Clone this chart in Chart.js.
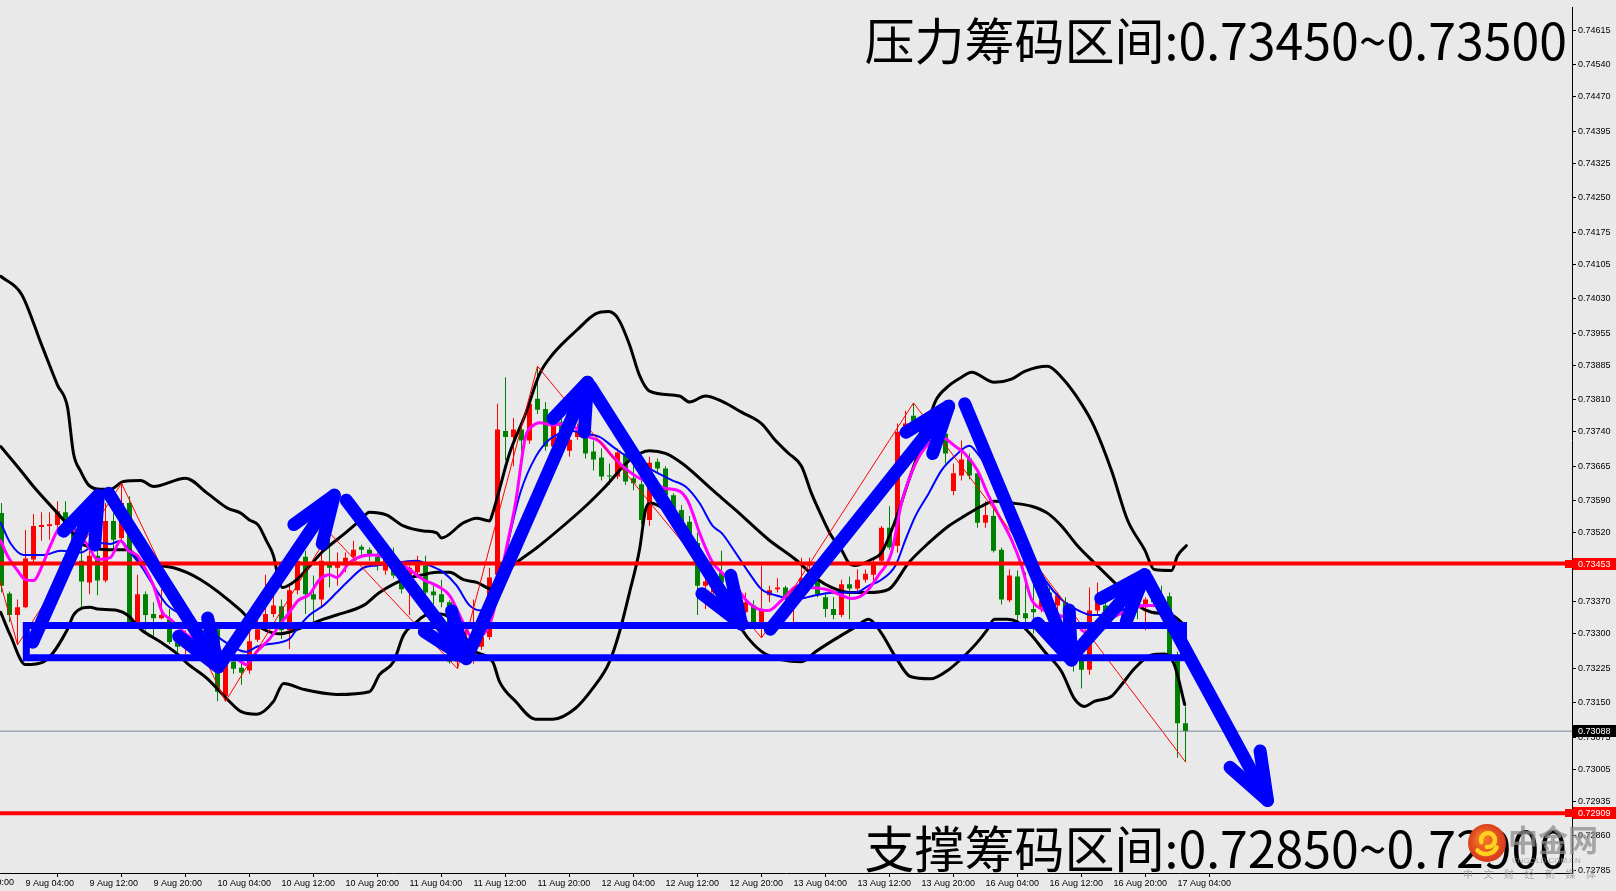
<!DOCTYPE html>
<html><head><meta charset="utf-8">
<script src="https://cdn.jsdelivr.net/npm/chart.js@4.4.0/dist/chart.umd.min.js"></script>
<style>html,body{margin:0;padding:0;background:#e9e9e9;overflow:hidden}canvas{display:block}</style>
</head><body><canvas id="c" width="1616" height="891"></canvas>
<script>
// ---------- DATA ----------
const candleOpen = [0.73563,0.73388,0.73341,0.73358,0.73462,0.73533,0.73535,0.73537,0.73565,0.73535,0.73459,0.73412,0.7347,0.73416,0.73546,0.73509,0.73585,0.73326,0.73386,0.73343,0.73334,0.73332,0.73287,0.73272,0.73293,0.73308,0.73272,0.7331,0.73164,0.73239,0.73226,0.7322,0.73287,0.7331,0.73343,0.7336,0.73308,0.73395,0.73468,0.73386,0.73375,0.73451,0.73444,0.73449,0.73468,0.7349,0.73483,0.73468,0.73438,0.73472,0.73416,0.73397,0.73434,0.73449,0.73392,0.73386,0.73369,0.73239,0.73272,0.73261,0.73272,0.73293,0.73429,0.73742,0.73729,0.73745,0.73721,0.73812,0.7379,0.73708,0.73762,0.73699,0.73729,0.73729,0.73697,0.73684,0.73645,0.73643,0.73693,0.73639,0.73626,0.73548,0.73675,0.7366,0.73602,0.7357,0.73544,0.73498,0.73405,0.7339,0.73434,0.73412,0.73369,0.73347,0.73362,0.73326,0.73384,0.73397,0.73401,0.73369,0.73412,0.73449,0.73416,0.7338,0.73354,0.73341,0.73408,0.73399,0.73418,0.73429,0.73459,0.73531,0.73492,0.7374,0.73775,0.73747,0.73725,0.7374,0.73736,0.73611,0.73645,0.73682,0.7365,0.73542,0.73557,0.73483,0.73373,0.73425,0.73345,0.73354,0.73358,0.7339,0.73362,0.73369,0.73297,0.73243,0.73222,0.73351,0.73362,0.73347,0.73362,0.73351,0.73369,0.73358,0.73375,0.7338,0.73382,0.73254,0.73105];
const candleHigh = [0.73585,0.73392,0.73375,0.73526,0.73561,0.73565,0.73565,0.73589,0.73589,0.73552,0.73488,0.73516,0.73488,0.73585,0.73563,0.73628,0.736,0.73429,0.73392,0.73369,0.73397,0.73354,0.73304,0.73308,0.73308,0.73326,0.73336,0.73326,0.73261,0.73261,0.7325,0.73308,0.73332,0.73429,0.73384,0.73375,0.73405,0.73477,0.73481,0.73427,0.73483,0.7352,0.73477,0.73477,0.73503,0.73494,0.73488,0.73477,0.73481,0.73488,0.73425,0.73449,0.7347,0.7347,0.73412,0.73418,0.73373,0.73293,0.73315,0.73375,0.73308,0.73444,0.73801,0.73859,0.7377,0.73764,0.73812,0.73883,0.73805,0.73762,0.73775,0.73736,0.73758,0.7374,0.73721,0.73704,0.73671,0.73704,0.73699,0.73665,0.73634,0.73686,0.73682,0.73665,0.73606,0.7358,0.73557,0.7352,0.73423,0.73423,0.73481,0.73423,0.7338,0.7339,0.73373,0.73449,0.73405,0.73421,0.73405,0.73375,0.73466,0.73466,0.73434,0.7339,0.7338,0.73418,0.73425,0.7344,0.7344,0.73462,0.73535,0.73578,0.73758,0.73786,0.73803,0.73768,0.73762,0.73758,0.73747,0.73671,0.73721,0.73693,0.7366,0.73589,0.73574,0.73488,0.7344,0.73438,0.73434,0.73412,0.7339,0.73401,0.7339,0.7338,0.73315,0.73261,0.73401,0.73412,0.73375,0.73373,0.73369,0.7338,0.73375,0.7338,0.73384,0.73405,0.7339,0.73261,0.73142];
const candleLow = [0.7339,0.73326,0.73276,0.73356,0.73455,0.73503,0.73505,0.73531,0.73524,0.73455,0.73354,0.73386,0.73384,0.73412,0.73483,0.73498,0.73321,0.73321,0.73308,0.73289,0.73332,0.73278,0.73261,0.73256,0.73265,0.73261,0.73261,0.73153,0.73153,0.73213,0.73189,0.73213,0.73282,0.73304,0.73336,0.73289,0.73267,0.73386,0.73343,0.73328,0.73358,0.73401,0.73405,0.73434,0.73464,0.73472,0.73459,0.73438,0.73429,0.73421,0.73388,0.73341,0.73423,0.73362,0.73364,0.73358,0.73235,0.73224,0.7325,0.73235,0.73265,0.73287,0.73423,0.73678,0.73665,0.73697,0.73714,0.73779,0.73699,0.73701,0.73732,0.73686,0.73723,0.73682,0.73656,0.73634,0.73624,0.73637,0.73624,0.73613,0.73539,0.73535,0.7365,0.73591,0.73559,0.73531,0.73477,0.73341,0.73354,0.73369,0.73401,0.73347,0.73336,0.73336,0.73321,0.73291,0.73369,0.7339,0.73373,0.73326,0.73401,0.73423,0.7338,0.73336,0.73332,0.73336,0.73332,0.7339,0.73412,0.73412,0.73455,0.73483,0.73477,0.73732,0.73736,0.73714,0.73714,0.73704,0.73671,0.73602,0.73634,0.73637,0.73531,0.73531,0.73477,0.73364,0.73369,0.73326,0.73326,0.733,0.73347,0.73358,0.73347,0.73293,0.73218,0.73181,0.73211,0.73343,0.7331,0.73336,0.73336,0.73343,0.73332,0.73308,0.73358,0.73347,0.7325,0.7303,0.73021];
const candleClose = [0.73405,0.73341,0.73358,0.73464,0.73535,0.73537,0.73539,0.73567,0.73535,0.73459,0.73414,0.7347,0.73416,0.73546,0.73505,0.73585,0.73326,0.73386,0.73341,0.73334,0.73341,0.73282,0.73272,0.73293,0.73282,0.73282,0.73308,0.73174,0.73239,0.73224,0.73215,0.73284,0.7331,0.73343,0.73362,0.73308,0.73395,0.73459,0.73386,0.73375,0.73459,0.73444,0.73455,0.73466,0.73483,0.73483,0.73472,0.73449,0.73472,0.73427,0.73397,0.73444,0.73455,0.7339,0.73384,0.73369,0.73239,0.73272,0.73282,0.73289,0.73293,0.73423,0.73745,0.73729,0.73745,0.73721,0.73801,0.73788,0.73708,0.73753,0.7374,0.73723,0.73742,0.73693,0.7368,0.73643,0.73643,0.73695,0.73632,0.73628,0.73548,0.73673,0.7366,0.73602,0.7357,0.73542,0.73498,0.73405,0.73414,0.73412,0.73412,0.73369,0.73347,0.73369,0.73326,0.73354,0.73395,0.73401,0.7338,0.73373,0.73421,0.73455,0.73386,0.73354,0.73341,0.73408,0.73399,0.73418,0.73431,0.73455,0.73531,0.73488,0.7374,0.73758,0.73747,0.73732,0.73747,0.73714,0.73693,0.7365,0.7368,0.73645,0.73542,0.73559,0.73481,0.73375,0.73427,0.73341,0.73334,0.73347,0.73373,0.73369,0.73384,0.73304,0.73276,0.73222,0.73351,0.73375,0.73341,0.73362,0.73351,0.73369,0.73358,0.73375,0.73369,0.73358,0.73254,0.73105,0.73088];

const bbUpper = [[-0.1,0.74079],[2.5,0.7404],[5,0.7393],[7,0.73842],[8.25,0.73794],[9,0.73693],[9.9,0.73654],[10.9,0.73624],[12.4,0.73615],[13.6,0.73615],[15.25,0.73632],[17.4,0.73634],[19,0.73621],[23,0.73639],[25.75,0.73606],[28.25,0.73574],[29.9,0.73563],[31,0.73548],[32.1,0.73537],[33.1,0.73503],[34,0.7347],[34.6,0.73423],[35.1,0.73401],[36.75,0.73416],[40.25,0.73481],[43,0.7352],[44.75,0.73546],[46,0.73565],[48.1,0.73559],[50.25,0.73535],[52.75,0.73524],[54.4,0.7352],[55,0.73509],[57.75,0.73542],[59.4,0.73552],[61,0.73546],[61.4,0.73563],[63.5,0.73693],[65.5,0.73779],[67.25,0.73866],[68.9,0.73909],[72,0.73963],[74.25,0.73997],[75.9,0.74002],[77.1,0.73986],[78.5,0.7393],[79.75,0.73863],[81,0.73829],[84.75,0.73818],[86,0.73805],[88,0.73818],[90,0.73807],[92.5,0.73783],[95,0.73758],[96.75,0.73721],[98.4,0.73693],[100,0.73665],[101.25,0.73606],[102.5,0.73557],[103.75,0.73513],[105,0.73483],[105.9,0.73455],[106.75,0.73449],[108.75,0.73462],[110,0.73477],[111.75,0.73548],[113.4,0.73634],[115,0.73714],[116.75,0.73807],[118.4,0.7384],[120,0.73859],[121.25,0.7387],[124.1,0.73848],[126.25,0.73855],[127.9,0.73872],[130.75,0.73883],[132.5,0.73859],[135,0.73801],[136.6,0.73751],[138.75,0.73656],[140.75,0.73548],[142.9,0.73483],[144.1,0.7344],[146.25,0.73438],[147,0.7347],[148.1,0.73492]];
const bbMiddle = [[-0.1,0.73708],[2.4,0.73656],[4,0.73621],[7.75,0.73548],[10.25,0.73494],[14.5,0.73483],[15.75,0.73483],[17.75,0.73455],[21.5,0.73444],[24.9,0.73418],[29.9,0.73351],[31,0.73332],[32.75,0.7331],[34.75,0.733],[36,0.73304],[40.25,0.73332],[41.9,0.73341],[45.25,0.73362],[47.25,0.7339],[50.25,0.73418],[52.75,0.73429],[54.4,0.73434],[56,0.73434],[57.75,0.73418],[59.4,0.73412],[61.4,0.73397],[63,0.73434],[67.25,0.73492],[73,0.73578],[75.5,0.73621],[78.5,0.73678],[81,0.73699],[83,0.73693],[85.1,0.73671],[88.9,0.73613],[91.75,0.7357],[95.9,0.73505],[99.25,0.73462],[102.1,0.73418],[103.75,0.73401],[105.9,0.7339],[108.4,0.7339],[110.9,0.73397],[113.4,0.73455],[115.9,0.73498],[118.4,0.73535],[120.4,0.73557],[122.5,0.73578],[124.1,0.73589],[126.25,0.73585],[128.75,0.73578],[130.75,0.73563],[132.5,0.73535],[134.5,0.73492],[136.6,0.73455],[138.75,0.73418],[140.4,0.7339],[142,0.73362],[143.75,0.73347],[146.25,0.73341],[147.9,0.73319]];
const bbLower = [[-0.1,0.73347],[1.1,0.73297],[3,0.73233],[5.25,0.73239],[8.25,0.7331],[9,0.73341],[11.1,0.73358],[12,0.73354],[14.5,0.73351],[15.75,0.73341],[17.4,0.7331],[19.9,0.73282],[22,0.73256],[23.25,0.73235],[25.75,0.73202],[28.25,0.73157],[29.9,0.73131],[31.9,0.73125],[34,0.73153],[35.25,0.73192],[37.75,0.73179],[41.9,0.73168],[46,0.73174],[47.25,0.73211],[49,0.73239],[50.25,0.73297],[51.9,0.73326],[53.1,0.73341],[54.9,0.73343],[56.4,0.7333],[57.75,0.733],[58.9,0.73265],[61.4,0.73239],[62.25,0.73196],[64.25,0.73153],[66.75,0.73114],[68.9,0.73114],[71.75,0.73138],[73.9,0.73181],[76,0.73239],[77.25,0.73304],[78.5,0.7339],[79.75,0.73483],[80.5,0.7357],[81.1,0.73585],[82.25,0.73578],[83.9,0.73557],[86.1,0.73509],[88,0.73455],[89.9,0.7339],[91.75,0.73332],[93.4,0.73289],[95.5,0.73256],[100,0.73239],[101.75,0.73261],[104.25,0.73289],[106.75,0.73315],[108.4,0.73332],[109.9,0.73304],[111.75,0.7325],[113.6,0.73207],[116.1,0.73202],[118.4,0.73222],[120,0.73246],[122,0.73282],[123.25,0.7331],[124.1,0.73332],[125.75,0.73332],[127,0.73326],[128.75,0.73297],[130.4,0.73261],[132.5,0.73218],[134.1,0.73159],[135.4,0.73142],[136.6,0.73153],[138.75,0.73164],[140,0.73189],[141.6,0.73224],[143.75,0.73254],[145.4,0.73256],[146.6,0.73233],[147.9,0.73146]];
const maFast = [[-0.1,0.73503],[0.75,0.7347],[2,0.73438],[3,0.73418],[4,0.73416],[5.1,0.73449],[6.1,0.73492],[7.4,0.73531],[9,0.73526],[10.75,0.73494],[12,0.73462],[13.6,0.73466],[14.9,0.73503],[15.75,0.73483],[17,0.7347],[17.75,0.73449],[19,0.73405],[20.1,0.73347],[21.1,0.73332],[23.25,0.73297],[26.1,0.73272],[29.4,0.73246],[30.6,0.73233],[31.9,0.73261],[33.5,0.73289],[34.75,0.73319],[36,0.73347],[37.1,0.73373],[38.5,0.73386],[39.75,0.73418],[41,0.73429],[41.9,0.73423],[43.5,0.73455],[45.25,0.7347],[46.5,0.73472],[47.75,0.73468],[49.4,0.73459],[51,0.7344],[52.75,0.73418],[54.4,0.73405],[56,0.73384],[57.25,0.73341],[58.1,0.7331],[58.9,0.73289],[60.5,0.73304],[61.4,0.73341],[63,0.73477],[64.25,0.73585],[65.5,0.73729],[66.4,0.73753],[67.25,0.7376],[68.9,0.73755],[70.5,0.73758],[71.4,0.73753],[73,0.73732],[74.75,0.73719],[76.4,0.73686],[78,0.7366],[79.75,0.73639],[81.4,0.73628],[83,0.73617],[84.75,0.73611],[85.75,0.73591],[86.4,0.73563],[87.25,0.7352],[88.9,0.73455],[90,0.73434],[91.75,0.73405],[93,0.73375],[94.6,0.73354],[95.9,0.73351],[97.5,0.73373],[99.6,0.73405],[101.25,0.73401],[103,0.73397],[105,0.73384],[106.25,0.73377],[108,0.7339],[109.6,0.73427],[111.25,0.73477],[112.5,0.73585],[114.25,0.73671],[115.9,0.73714],[117.5,0.73729],[119.1,0.7371],[120.4,0.73693],[122,0.73656],[123.25,0.73606],[124.5,0.73563],[126.25,0.73505],[127.5,0.73449],[128.75,0.73375],[130,0.73354],[131.75,0.73343],[133.4,0.73332],[134.5,0.73319],[135.4,0.73304],[136.6,0.7331],[137.9,0.73326],[139.5,0.73341],[141.25,0.73354],[142.9,0.73362],[144.5,0.73362],[146.25,0.73341],[148,0.73282]];
const maSlow = [[-0.1,0.73542],[1.1,0.73498],[2.75,0.73472],[5.25,0.73472],[7.4,0.73481],[9.9,0.73477],[11.1,0.73488],[12.4,0.73498],[13.6,0.73496],[14.9,0.73503],[16.1,0.73477],[17.4,0.73449],[19,0.73405],[20.75,0.73362],[23.25,0.73336],[25.75,0.7331],[27.4,0.73289],[29.4,0.73267],[30.6,0.73261],[31.9,0.73272],[33.5,0.73278],[36,0.73289],[36.9,0.7331],[38.5,0.73341],[40.25,0.73362],[41.9,0.7339],[43.5,0.73418],[45.25,0.73444],[46.9,0.73449],[50.25,0.73457],[51.9,0.73459],[53.5,0.73449],[55.25,0.73434],[56.9,0.73405],[58.5,0.73362],[59.9,0.73351],[61.1,0.7338],[62.4,0.7342],[63.6,0.7352],[64.9,0.73610],[66.75,0.73685],[68.6,0.73725],[71.4,0.73742],[73,0.73736],[74.75,0.73729],[76.4,0.73708],[78.9,0.73678],[81.4,0.73656],[83.9,0.73634],[85.5,0.73621],[87.25,0.73585],[88.9,0.73535],[90,0.7352],[91.75,0.73477],[93.4,0.73434],[95,0.73397],[96.75,0.73384],[99.25,0.73375],[101.75,0.73384],[104.25,0.7339],[106.75,0.7339],[108.4,0.73405],[110,0.73418],[111.75,0.73449],[113,0.73505],[114.25,0.73557],[115.9,0.73606],[117.5,0.73656],[119.1,0.73686],[121,0.7371],[122,0.73693],[123.6,0.7365],[126.1,0.73563],[128.6,0.73477],[130.5,0.73416],[132.5,0.73375],[134.6,0.73351],[136.25,0.73341],[137.9,0.73341],[139.9,0.73351],[142.4,0.73362],[144.25,0.73362],[146.1,0.73343],[148,0.73308]];
const zigzag = [[-1,0.73466],[2,0.73276],[15,0.73628],[28,0.73153],[41,0.7352],[57,0.73224],[67,0.73883],[95,0.73291],[114,0.73803],[148,0.73021]];

const resistanceLevel = 0.73453;
const supportLevel = 0.72909;
const currentPrice = 0.73088;
const zoneBox = {left:3.1, right:147.75, top:0.73318, bottom:0.73248};
const trendArrows = [
  [3.9,0.73282,12.1,0.73602],[13.4,0.73606,27.1,0.73228],[27.4,0.73235,41.6,0.73602],
  [43.1,0.73591,58.1,0.73246],[58.5,0.73261,73.25,0.73848],[73.6,0.7384,92.5,0.73321],
  [96.1,0.7331,118.4,0.73796],[120.4,0.73801,133.75,0.73243],[134.1,0.73256,142.9,0.73429],
  [143.1,0.73423,158.25,0.72937]
];
const xTickIndex = [3,11,19,27,35,43,51,59,67,75,83,91,99,107,115,123,131,139,147];
const xTickLabels = ["9 Aug 04:00","9 Aug 12:00","9 Aug 20:00","10 Aug 04:00","10 Aug 12:00","10 Aug 20:00","11 Aug 04:00","11 Aug 12:00","11 Aug 20:00","12 Aug 04:00","12 Aug 12:00","12 Aug 20:00","13 Aug 04:00","13 Aug 12:00","13 Aug 20:00","16 Aug 04:00","16 Aug 12:00","16 Aug 20:00","17 Aug 04:00"];
const yTickValues = [0.74615,0.74540,0.74470,0.74395,0.74325,0.74250,0.74175,0.74105,0.74030,0.73955,0.73885,0.73810,0.73740,0.73665,0.73590,0.73520,0.73445,0.73370,0.73300,0.73225,0.73150,0.73075,0.73005,0.72935,0.72860,0.72785];
const pressureText = "压力筹码区间:0.73450~0.73500";
const supportText = "支撑筹码区间:0.72850~0.72900";

// ---------- CHART ----------
const X_MIN = -0.1875, X_MAX = 196.3125;
const Y_MIN = 0.7277902, Y_MAX = 0.746647;
const UP = '#ff0000', DOWN = '#008000';
const idx = candleOpen.map((_, i) => i);
const candleColor = idx.map(i => candleClose[i] >= candleOpen[i] ? UP : DOWN);
const pts = arr => arr.map(p => ({x: p[0], y: p[1]}));
const hline = v => [{x: X_MIN, y: v}, {x: X_MAX, y: v}];
const lineDS = (data, color, width, order, extra) => Object.assign({
  type: 'line', data, borderColor: color, borderWidth: width, pointRadius: 0,
  cubicInterpolationMode: 'monotone', order, borderJoinStyle: 'round', borderCapStyle: 'round'
}, extra || {});
const AXIS_FONT = {family: '"Liberation Sans", Arial, sans-serif', size: 9};

const overlay = {
  id: 'overlay',
  beforeDraw(chart) {
    const c = chart.ctx; c.save(); c.fillStyle = '#e9e9e9'; c.fillRect(0, 0, chart.width, chart.height); c.restore();
  },
  afterDatasetsDraw(chart) {
    const {ctx, scales: {x, y}, chartArea: a} = chart;
    ctx.save();
    ctx.beginPath(); ctx.rect(a.left, a.top, a.right - a.left, a.bottom - a.top); ctx.clip();
    ctx.strokeStyle = '#0000ff'; ctx.lineWidth = 13; ctx.lineCap = 'round'; ctx.lineJoin = 'round';
    const L = 50, h = 20 * Math.PI / 180;
    for (const [i1, p1, i2, p2] of trendArrows) {
      const x1 = x.getPixelForValue(i1), y1 = y.getPixelForValue(p1);
      const x2 = x.getPixelForValue(i2), y2 = y.getPixelForValue(p2);
      const ang = Math.atan2(y1 - y2, x1 - x2);
      ctx.beginPath(); ctx.moveTo(x1, y1); ctx.lineTo(x2, y2); ctx.stroke();
      ctx.beginPath();
      ctx.moveTo(x2 + L * Math.cos(ang + h), y2 + L * Math.sin(ang + h));
      ctx.lineTo(x2, y2);
      ctx.lineTo(x2 + L * Math.cos(ang - h), y2 + L * Math.sin(ang - h));
      ctx.stroke();
    }
    ctx.restore();
  },
  afterDraw(chart) {
    const {ctx, scales: {x, y}, chartArea: a} = chart;
    ctx.save();
    // cut-off label at the far left of the time axis
    ctx.font = '9px ' + AXIS_FONT.family; ctx.fillStyle = '#000';
    ctx.textAlign = 'right'; ctx.textBaseline = 'top';
    ctx.fillText('6 Aug 20:00', 14, a.bottom + 5);
    // price markers on the axis
    const boxes = [[resistanceLevel, '#ff0000', true], [currentPrice, '#000000', false], [supportLevel, '#ff0000', true]];
    ctx.textBaseline = 'middle'; ctx.textAlign = 'left';
    for (const [v, col, sq] of boxes) {
      const py = Math.round(y.getPixelForValue(v));
      ctx.fillStyle = col;
      ctx.fillRect(a.right + 1, py - 6, 44, 12);
      if (sq) ctx.fillRect(a.right - 7, py - 4, 8, 8);
      ctx.fillStyle = '#ffffff';
      ctx.fillText(v.toFixed(5), a.right + 6, py + 0.5);
    }
    // big annotations
    ctx.fillStyle = '#000';
    ctx.textAlign = 'right'; ctx.textBaseline = 'middle';
    ctx.font = '50px "Noto Sans CJK SC", sans-serif';
    ctx.fillText(pressureText, 1567, 41);
    ctx.fillText(supportText, 1567, 849);
    // watermark
    const cx = 1487, cy = 843;
    const g = ctx.createRadialGradient(cx - 5, cy - 6, 2, cx, cy, 20);
    g.addColorStop(0, '#f57b2a'); g.addColorStop(1, '#d8361b');
    ctx.fillStyle = g; ctx.beginPath(); ctx.arc(cx, cy, 19, 0, Math.PI * 2); ctx.fill();
    ctx.strokeStyle = '#ffd21f'; ctx.lineWidth = 4.5; ctx.lineCap = 'round';
    ctx.beginPath(); ctx.arc(cx + 1, cy - 3, 7, Math.PI * 0.9, Math.PI * 2.55); ctx.stroke();
    ctx.beginPath(); ctx.arc(cx - 1, cy - 1, 12, Math.PI * 0.15, Math.PI * 0.75); ctx.stroke();
    ctx.fillStyle = 'rgba(140,140,140,0.75)';
    ctx.textAlign = 'left'; ctx.textBaseline = 'alphabetic';
    ctx.font = 'bold 30px "Noto Sans CJK SC", sans-serif';
    ctx.fillText('中金网', 1508, 851);
    ctx.font = '8px "Liberation Sans", Arial, sans-serif';
    ctx.fillStyle = 'rgba(150,150,150,0.8)';
    ctx.fillText('CNGOLD.COM.CN', 1512, 863);
    ctx.font = '10px "Noto Sans CJK SC", sans-serif';
    const tag = '中文财经新媒体';
    for (let k = 0; k < tag.length; k++) ctx.fillText(tag[k], 1463 + k * 20.5, 878);
    ctx.restore();
  }
};

const datasets = [
  {type: 'bar', data: idx.map(i => ({x: i, y: [candleLow[i], candleHigh[i]]})), backgroundColor: candleColor,
   barThickness: 1, grouped: false, borderWidth: 0, inflateAmount: 0, minBarLength: 1, order: 20},
  {type: 'bar', data: idx.map(i => ({x: i, y: [candleOpen[i], candleClose[i]]})), backgroundColor: candleColor,
   barThickness: 5, grouped: false, borderWidth: 0, inflateAmount: 0, minBarLength: 1, order: 19},
  lineDS(pts(bbUpper), '#000000', 3, 12),
  lineDS(pts(bbMiddle), '#000000', 3, 12),
  lineDS(pts(bbLower), '#000000', 3, 12),
  lineDS(pts(maSlow), '#0000ff', 2, 11),
  lineDS(pts(maFast), '#ff00ff', 3, 10),
  lineDS(pts(zigzag), '#ff0000', 1, 9, {cubicInterpolationMode: 'default', tension: 0}),
  lineDS(hline(currentPrice), '#778899', 1, 8, {cubicInterpolationMode: 'default'}),
  lineDS(hline(resistanceLevel), '#ff0000', 4, 7, {cubicInterpolationMode: 'default'}),
  lineDS(hline(supportLevel), '#ff0000', 4, 7, {cubicInterpolationMode: 'default'}),
  lineDS([{x: zoneBox.left, y: zoneBox.top}, {x: zoneBox.right, y: zoneBox.top}, {x: zoneBox.right, y: zoneBox.bottom},
          {x: zoneBox.left, y: zoneBox.bottom}, {x: zoneBox.left, y: zoneBox.top}], '#0000ff', 7, 5,
         {cubicInterpolationMode: 'default', tension: 0, borderJoinStyle: 'miter', borderCapStyle: 'square'})
];

new Chart(document.getElementById('c'), {
  type: 'bar',
  data: {datasets},
  options: {
    responsive: false, animation: false, devicePixelRatio: 1, events: [],
    layout: {padding: 0},
    plugins: {legend: {display: false}, tooltip: {enabled: false}},
    scales: {
      x: {
        type: 'linear', min: X_MIN, max: X_MAX, position: 'bottom', offset: false,
        afterFit(s) { s.height = 18; },
        afterBuildTicks(s) { s.ticks = xTickIndex.map(v => ({value: v})); },
        ticks: {callback: (v, i) => xTickLabels[i], autoSkip: false, maxRotation: 0, minRotation: 0,
                align: 'start', padding: 1, labelOffset: 0, color: '#000', font: AXIS_FONT},
        grid: {drawOnChartArea: false, tickLength: 4, tickColor: '#000', color: '#000'},
        border: {display: true, color: '#000', width: 1}
      },
      y: {
        type: 'linear', position: 'right', min: Y_MIN, max: Y_MAX,
        afterFit(s) { s.width = 44; },
        afterBuildTicks(s) { s.ticks = yTickValues.map(v => ({value: v})); },
        ticks: {callback: v => v.toFixed(5), autoSkip: false, padding: 2, color: '#000', font: AXIS_FONT},
        grid: {drawOnChartArea: false, tickLength: 4, tickColor: '#000', color: '#000'},
        border: {display: true, color: '#000', width: 1}
      }
    }
  },
  plugins: [overlay]
});
</script>
</body></html>
